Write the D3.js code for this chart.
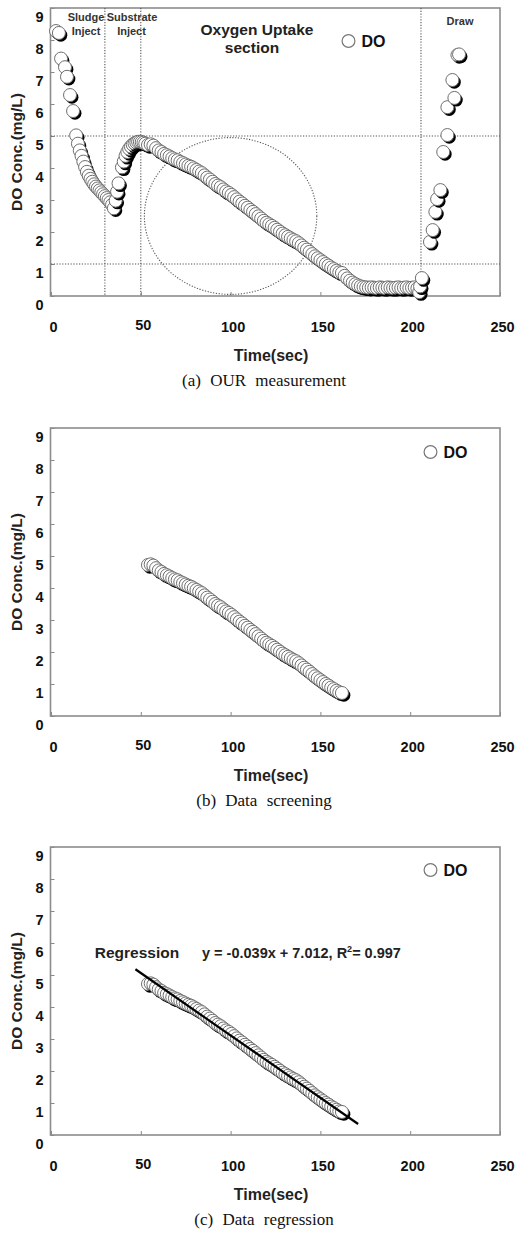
<!DOCTYPE html>
<html>
<head>
<meta charset="utf-8">
<script src="https://cdn.jsdelivr.net/npm/d3@7"></script>
<style>
  body { margin: 0; background: #fff; }
  svg { display: block; }
</style>
</head>
<body>
<svg id="chart" width="517" height="1234"></svg>
<script>
// DO readings, [time (sec), DO (mg/L)]
const fillPhase = [
  [2.8, 8.28], [4.4, 8.22], [5.6, 7.42], [7.8, 7.15], [8.9, 6.85], [10.6, 6.28], [12.3, 5.78], [14, 5.02],
  [15, 4.76], [16, 4.55], [17, 4.38], [18, 4.2], [19, 4.03], [20, 3.88], [21, 3.76], [22, 3.66],
  [23, 3.57], [24, 3.49], [25, 3.42], [26, 3.36], [27, 3.3], [28, 3.24], [29, 3.18], [30, 3.12],
  [31, 3.06], [32, 3.0], [33, 2.93], [34, 2.85], [35, 2.74], [36, 2.98], [36.8, 3.26], [37.6, 3.52],
  [39.5, 4.02], [40.5, 4.2], [41.5, 4.38], [42.5, 4.5], [43.5, 4.6], [44.5, 4.67], [45.5, 4.73],
  [46.5, 4.77], [47.5, 4.8], [48.5, 4.82], [49.5, 4.82], [50.5, 4.81], [51.5, 4.79], [52.5, 4.76]
];
// uptake section kept after screening
const screened = [
  [54, 4.72], [55.5, 4.74], [57, 4.70], [58.5, 4.62], [60, 4.55], [61.5, 4.50], [63, 4.44], [64.5, 4.40],
  [66, 4.36], [67.5, 4.31], [69, 4.27], [70.5, 4.24], [72, 4.19], [73.5, 4.15], [75, 4.11], [76.5, 4.07],
  [78, 4.04], [79.5, 3.99], [81, 3.94], [82.5, 3.89], [84, 3.84], [85.5, 3.77], [87, 3.70], [88.5, 3.64],
  [90, 3.57], [91.5, 3.50], [93, 3.45], [94.5, 3.40], [96, 3.33], [97.5, 3.27], [99, 3.22], [100.5, 3.16],
  [102, 3.09], [103.5, 3.02], [105, 2.95], [106.5, 2.89], [108, 2.82], [109.5, 2.76], [111, 2.69],
  [112.5, 2.63], [114, 2.56], [115.5, 2.49], [117, 2.42], [118.5, 2.35], [120, 2.29], [121.5, 2.24],
  [123, 2.19], [124.5, 2.13], [126, 2.07], [127.5, 2.01], [129, 1.95], [130.5, 1.90], [132, 1.85],
  [133.5, 1.80], [135, 1.75], [136.5, 1.71], [138, 1.65], [139.5, 1.58], [141, 1.51], [142.5, 1.45],
  [144, 1.38], [145.5, 1.31], [147, 1.24], [148.5, 1.18], [150, 1.12], [151.5, 1.06], [153, 1.00],
  [154.5, 0.95], [156, 0.89], [157.5, 0.84], [159, 0.79], [160.5, 0.74], [162, 0.72]
];
const tailPhase = [
  [163.5, 0.63], [165, 0.55], [166.5, 0.48], [168, 0.42], [169.5, 0.37], [171, 0.33], [172.5, 0.3],
  [174, 0.28], [175.5, 0.27], [177, 0.26], [178.5, 0.27], [180, 0.26], [181.5, 0.25], [183, 0.27],
  [184.5, 0.26], [186, 0.25], [187.5, 0.27], [189, 0.26], [190.5, 0.25], [192, 0.26], [193.5, 0.27],
  [195, 0.25], [196.5, 0.26], [198, 0.27], [199.5, 0.25], [201, 0.26], [202.5, 0.27], [204, 0.24],
  [205, 0.12], [205.5, 0.3], [206.5, 0.56]
];
const drawPhase = [
  [211, 1.69], [212.5, 2.06], [214, 2.63], [215, 3.03], [216.8, 3.31], [218.4, 4.5], [220.7, 5.03],
  [220.7, 5.9], [223.5, 6.75], [224.6, 6.19], [226.3, 7.53], [227.2, 7.55]
];

const xTicks = [0, 50, 100, 150, 200, 250];
const yTicks = [0, 1, 2, 3, 4, 5, 6, 7, 8, 9];
const phaseLines = [30, 50, 206];      // sec
const levelLines = [5, 1];             // mg/L
const uptakeOval = {cx: 100, cy: 2.5, rx: 48, ry: 2.45};
const regression = {slope: -0.039, intercept: 7.012, r2: 0.997, from: 47, to: 171};

const svg = d3.select("#chart");
const sans = "'Liberation Sans', Arial, sans-serif";
const PH = 288;

function panel(top, caption, legendAt) {
    const x = d3.scaleLinear().domain([0, 250]).range([51, 500]);
    const y = d3.scaleLinear().domain([0, 9]).range([top + PH, top]);
    const g = svg.append("g");

    // axes
    const yAxis = g.append("g")
        .attr("transform", "translate(50.5,0)")
        .call(d3.axisLeft(y).tickValues(yTicks).tickSize(-4).tickPadding(7));
    yAxis.select(".domain").remove();
    yAxis.selectAll("line").attr("stroke", "#888");
    yAxis.selectAll("text").attr("dy", "0.32em").attr("y", 8.5);

    const xAxis = g.append("g")
        .attr("transform", `translate(0,${top + PH})`)
        .call(d3.axisBottom(x).tickValues(xTicks).tickSize(-4).tickPadding(26));
    xAxis.select(".domain").remove();
    xAxis.selectAll("line").attr("stroke", "#888");
    xAxis.selectAll("text").attr("x", 2).attr("y", d => d === 50 ? 24 : 26);

    g.selectAll(".tick text")
        .attr("font-family", sans).attr("font-weight", "bold")
        .attr("font-size", 14.5).attr("fill", "#111");

    g.append("rect")
        .attr("x", 50.5).attr("y", top)
        .attr("width", 449.5).attr("height", PH)
        .attr("fill", "none").attr("stroke", "#8c8c8c").attr("stroke-width", 1.6);

    g.append("text")
        .attr("transform", `translate(22,${top + PH / 2}) rotate(-90)`)
        .attr("text-anchor", "middle")
        .attr("font-family", sans).attr("font-weight", "bold").attr("font-size", 15.5)
        .attr("fill", "#222")
        .text("DO Conc.(mg/L)");

    g.append("text")
        .attr("x", 271).attr("y", top + PH + 65)
        .attr("text-anchor", "middle")
        .attr("font-family", sans).attr("font-weight", "bold").attr("font-size", 16)
        .attr("fill", "#222")
        .text("Time(sec)");

    g.append("text")
        .attr("x", 264).attr("y", top + PH + 90)
        .attr("text-anchor", "middle")
        .attr("font-family", "'Liberation Serif', 'Times New Roman', serif")
        .attr("font-size", 17).attr("word-spacing", 5)
        .attr("fill", "#111")
        .text(caption);

    // legend
    g.append("circle")
        .attr("cx", legendAt[0]).attr("cy", top + legendAt[1]).attr("r", 6.4)
        .attr("fill", "#fff").attr("stroke", "#777").attr("stroke-width", 1.2);
    g.append("text")
        .attr("x", legendAt[0] + 13).attr("y", top + legendAt[1] + 5.5)
        .attr("font-family", sans).attr("font-weight", "bold").attr("font-size", 16)
        .attr("fill", "#111")
        .text("DO");

    return {g, x, y};
}

function drawPoints(p, points) {
    const pt = p.g.append("g").selectAll("g")
        .data(points)
        .join("g")
        .attr("transform", d => `translate(${p.x(d[0])},${p.y(d[1])})`);
    pt.append("circle")
        .attr("cx", 1.9).attr("cy", 2.2).attr("r", 6.5)
        .attr("fill", "#000");
    pt.append("circle")
        .attr("r", 6.5)
        .attr("fill", "#fff").attr("stroke", "#6e6e6e").attr("stroke-width", 1);
}

// (a) OUR measurement
const pa = panel(8, "(a) OUR measurement", [348.5, 33]);
const dotted = {stroke: "#555", "stroke-width": 1.1, "stroke-dasharray": "1.2,1.6"};
function applyDotted(sel) {
    Object.entries(dotted).forEach(([k, v]) => sel.attr(k, v));
    return sel;
}
applyDotted(pa.g.append("g").selectAll("line").data(levelLines).join("line")
    .attr("x1", pa.x(0)).attr("x2", pa.x(250))
    .attr("y1", d => pa.y(d)).attr("y2", d => pa.y(d)));
applyDotted(pa.g.append("g").selectAll("line").data(phaseLines).join("line")
    .attr("x1", d => pa.x(d)).attr("x2", d => pa.x(d))
    .attr("y1", pa.y(9)).attr("y2", pa.y(0)));
applyDotted(pa.g.append("ellipse")
    .attr("cx", pa.x(uptakeOval.cx)).attr("cy", pa.y(uptakeOval.cy))
    .attr("rx", pa.x(uptakeOval.rx) - pa.x(0)).attr("ry", pa.y(0) - pa.y(uptakeOval.ry))
    .attr("fill", "none"));

const note = (p, x, y, txt, size) => p.g.append("text")
    .attr("x", x).attr("y", y).attr("text-anchor", "middle")
    .attr("font-family", sans).attr("font-weight", "bold").attr("font-size", size)
    .attr("fill", "#333").text(txt);
note(pa, 86, 21, "Sludge", 11);
note(pa, 86, 35, "Inject", 11);
note(pa, 132, 21, "Substrate", 11);
note(pa, 131.5, 35, "Inject", 11);
note(pa, 257, 35, "Oxygen Uptake", 15.5).attr("fill", "#222");
note(pa, 252, 53, "section", 15.5).attr("fill", "#222");
note(pa, 460, 25, "Draw", 11);

drawPoints(pa, [...fillPhase, ...screened, ...tailPhase, ...drawPhase]);

// (b) Data screening
const pb = panel(428, "(b) Data screening", [430.5, 24]);
drawPoints(pb, screened);

// (c) Data regression
const pc = panel(847, "(c) Data regression", [430.5, 23]);
drawPoints(pc, screened);
const line = d3.line().x(d => pc.x(d)).y(d => pc.y(regression.slope * d + regression.intercept));
pc.g.append("path")
    .attr("d", line([regression.from, regression.to]))
    .attr("stroke", "#000").attr("stroke-width", 2.2).attr("fill", "none");
note(pc, 137, 958, "Regression", 15.5).attr("fill", "#222");
const eq = pc.g.append("text")
    .attr("x", 202).attr("y", 958)
    .attr("font-family", sans).attr("font-weight", "bold").attr("font-size", 14.5)
    .attr("fill", "#222");
eq.append("tspan").text(`y = ${regression.slope}x + ${regression.intercept}, R`);
eq.append("tspan").attr("font-size", 9).attr("dy", -6).text("2");
eq.append("tspan").attr("dy", 6).text(`= ${regression.r2}`);
</script>
</body>
</html>
